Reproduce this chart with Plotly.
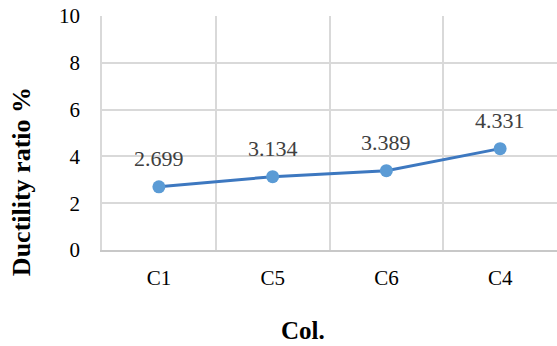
import plotly.graph_objects as go

columns = ["C1", "C5", "C6", "C4"]
ductility = [2.699, 3.134, 3.389, 4.331]
y_ticks = [0, 2, 4, 6, 8, 10]

serif = "Liberation Serif"

fig = go.Figure()
fig.add_trace(go.Scatter(
    x=columns, y=ductility, mode="lines+markers",
    line=dict(color="#3d78c0", width=3),
    marker=dict(color="#5b9bd5", size=13),
    showlegend=False, hoverinfo="skip",
))

# value labels above each point
for c, v in zip(columns, ductility):
    fig.add_annotation(
        x=c, y=v, text=f"{v:.3f}", showarrow=False,
        yshift=28, font=dict(family=serif, size=22, color="#404040"),
    )

# axis titles
fig.add_annotation(
    xref="paper", yref="paper", x=-0.178, y=0.29, textangle=-90,
    text="<b>Ductility ratio %</b>", showarrow=False,
    xanchor="center", yanchor="middle",
    font=dict(family=serif, size=26, color="#000000"),
)
fig.add_annotation(
    xref="paper", yref="paper", x=0.442, y=-0.345,
    text="<b>Col.</b>", showarrow=False,
    xanchor="center", yanchor="middle",
    font=dict(family=serif, size=25, color="#000000"),
)

fig.update_layout(
    width=557, height=346,
    margin=dict(l=102, r=0, t=16, b=96),
    paper_bgcolor="white", plot_bgcolor="white",
    font=dict(family=serif, color="#000000"),
)
fig.update_xaxes(
    type="category", tickson="boundaries", ticks="",
    showgrid=True, gridcolor="#d9d9d9", gridwidth=1.5,
    showline=True, linecolor="#c8c8c8", linewidth=2,
    tickfont=dict(family=serif, size=21, color="#000000"),
    ticklabelstandoff=8,
    range=[-0.5, 3.5],
)
fig.update_yaxes(
    range=[0, 10], tickvals=y_ticks, ticks="",
    showgrid=True, gridcolor="#d9d9d9", gridwidth=1.5,
    zeroline=False, showline=True, linecolor="#d9d9d9", linewidth=1.5,
    tickfont=dict(family=serif, size=21, color="#000000"),
    ticklabelstandoff=16,
)

fig.write_html("out.html")
